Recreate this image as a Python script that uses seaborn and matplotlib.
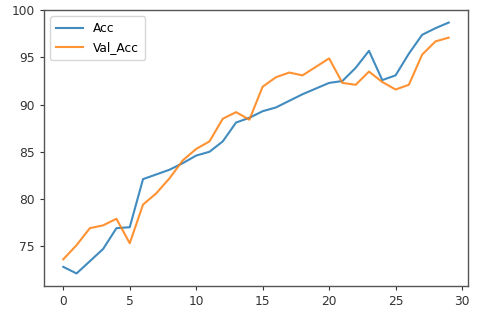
import matplotlib
matplotlib.use("Agg")
import matplotlib.pyplot as plt
import seaborn as sns
import pandas as pd

epochs = list(range(30))
acc = [72.8, 72.1, 73.4, 74.7, 76.9, 77.0, 82.1, 82.6, 83.1, 83.8,
       84.6, 85.0, 86.1, 88.1, 88.6, 89.3, 89.7, 90.4, 91.1, 91.7,
       92.3, 92.5, 93.9, 95.7, 92.6, 93.1, 95.4, 97.4, 98.1, 98.7]
val_acc = [73.6, 75.1, 76.9, 77.2, 77.9, 75.3, 79.4, 80.6, 82.2, 84.1,
           85.3, 86.1, 88.5, 89.2, 88.4, 91.9, 92.9, 93.4, 93.1, 94.0,
           94.9, 92.3, 92.1, 93.5, 92.4, 91.6, 92.1, 95.3, 96.7, 97.1]
series_names = ["Acc", "Val_Acc"]

df = pd.DataFrame({
    "epoch": epochs * 2,
    "value": acc + val_acc,
    "series": [series_names[0]] * len(acc) + [series_names[1]] * len(val_acc),
})

plt.rcParams["font.family"] = ["DejaVu Sans"]
fig = plt.figure(figsize=(4.8, 3.15), dpi=100)
ax = fig.add_axes([44 / 480, 1 - 286 / 315, 424 / 480, 276 / 315])

sns.lineplot(data=df, x="epoch", y="value", hue="series",
             palette=["#1f77b4", "#ff7f0e"], linewidth=1.5, alpha=0.85, ax=ax)

ax.set_xlabel("")
ax.set_ylabel("")
ax.set_xticks([0, 5, 10, 15, 20, 25, 30])
ax.set_yticks([75, 80, 85, 90, 95, 100])
ax.tick_params(labelsize=8.8, colors="#333333", length=3, width=0.8)
for s in ax.spines.values():
    s.set_color("#555555")
    s.set_linewidth(1.0)

leg = ax.legend(loc="upper left", fontsize=8.8, handlelength=2.2,
                borderpad=0.5, labelspacing=0.5)
for line in leg.get_lines():
    line.set_linewidth(1.5)

fig.savefig("out.png", dpi=100)
